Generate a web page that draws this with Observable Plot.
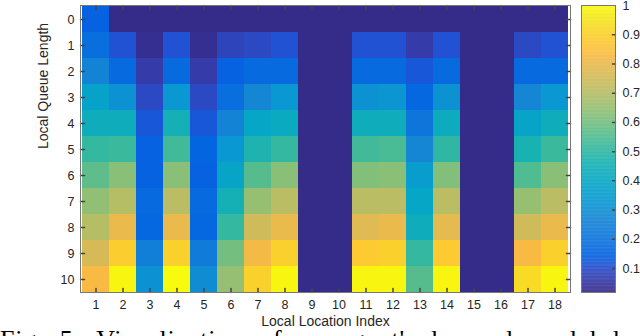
<!DOCTYPE html>
<html><head><meta charset="utf-8">
<script src="https://cdn.jsdelivr.net/npm/d3@7"></script>
<script src="https://cdn.jsdelivr.net/npm/@observablehq/plot@0.6"></script>
<style>
html,body{margin:0;padding:0;background:#fff;overflow:hidden}
#wrap{position:relative;width:640px;height:336px;overflow:hidden}
#cbar{position:absolute;left:575px;top:0}
#caption{font-family:"Liberation Serif","Times New Roman",serif;font-size:26px;line-height:26px;white-space:nowrap;margin-top:4px;word-spacing:8px;letter-spacing:0.8px;color:#000}
svg{overflow:visible}
</style></head><body>
<div id="wrap"><div id="heat"></div><div id="cbar"></div><div id="caption">Fig. 5: Visualization of an agent's learned model local coefficients</div></div>
<script>
const locations = [1,2,3,4,5,6,7,8,9,10,11,12,13,14,15,16,17,18];
const queueLengths = [0,1,2,3,4,5,6,7,8,9,10];
// rows: queue length 0..10; columns: location 1..18
const coefficients = [
  [0.14,0.02,0.02,0.02,0.02,0.02,0.02,0.02,0.02,0.02,0.02,0.02,0.02,0.02,0.02,0.02,0.02,0.02],
  [0.18,0.11,0.03,0.11,0.03,0.08,0.09,0.11,0.02,0.02,0.11,0.11,0.06,0.11,0.02,0.02,0.09,0.11],
  [0.26,0.17,0.06,0.17,0.06,0.14,0.17,0.17,0.02,0.02,0.17,0.17,0.12,0.17,0.02,0.02,0.17,0.17],
  [0.37,0.31,0.09,0.33,0.09,0.18,0.27,0.33,0.02,0.02,0.31,0.32,0.16,0.31,0.02,0.02,0.27,0.33],
  [0.43,0.43,0.12,0.45,0.12,0.26,0.39,0.41,0.02,0.02,0.43,0.43,0.21,0.42,0.02,0.02,0.38,0.43],
  [0.51,0.52,0.14,0.53,0.15,0.33,0.47,0.51,0.02,0.02,0.53,0.54,0.27,0.50,0.02,0.02,0.46,0.52],
  [0.57,0.63,0.14,0.63,0.14,0.38,0.56,0.63,0.02,0.02,0.62,0.63,0.35,0.62,0.02,0.02,0.55,0.63],
  [0.64,0.70,0.17,0.71,0.17,0.45,0.65,0.71,0.02,0.02,0.71,0.71,0.39,0.71,0.02,0.02,0.65,0.71],
  [0.70,0.80,0.16,0.80,0.16,0.51,0.75,0.80,0.02,0.02,0.78,0.80,0.43,0.79,0.02,0.02,0.75,0.80],
  [0.76,0.89,0.24,0.90,0.23,0.60,0.82,0.90,0.02,0.02,0.88,0.90,0.51,0.88,0.02,0.02,0.83,0.90],
  [0.83,0.99,0.31,1.00,0.29,0.65,0.90,0.99,0.02,0.02,0.99,0.99,0.56,0.99,0.02,0.02,0.93,0.99]
];
const colorbarTicks = [0.1,0.2,0.3,0.4,0.5,0.6,0.7,0.8,0.9,1];
const xLabel = "Local Location Index";
const yLabel = "Local Queue Length";

// parula colormap
const parulaColors = ["#352a87","#353dad","#2053d4","#0363e1","#0d75dc","#1485d4","#0998d1","#06a7c6","#15b1b4","#38b99e","#65be86","#92bf73","#b7bd64","#d9ba56","#f8ba44","#fec832","#f7d826","#f5eb18","#f9fb0e"];
const parulaStops = [0,3,6,8,12,16,20,24,28,32,36,40,44,48,52,55,58,61,63].map(i => i/63);
const cmin = 0.018, cmax = 1;
const colorScale = () => ({type:"linear", domain: parulaStops.map(t => cmin + t*(cmax-cmin)), range: parulaColors, interpolate:"rgb", clamp:true});

const cells = queueLengths.flatMap((q,i) => locations.map((l,j) => ({q, l, v: coefficients[i][j]})));
const tickShape = {draw(context, l){ context.moveTo(0,0); context.lineTo(0,-l); }};
const tickStroke = "#444";
const font = "'Liberation Sans', Arial, Helvetica, sans-serif";

const heat = Plot.plot({
  width:640, height:323, marginLeft:80, marginRight:70, marginTop:5, marginBottom:31,
  style:{fontFamily:font, fontSize:"12.5px", color:"#262626", background:"#fff", overflow:"visible"},
  x:{type:"band", domain:locations, padding:0},
  y:{type:"band", domain:queueLengths, padding:0},
  color: colorScale(),
  marks:[
    Plot.cell(cells, {x:"l", y:"q", fill:"v", inset:0}),
    Plot.axisX({anchor:"bottom", tickSize:0, tickPadding:8, label:null}),
    Plot.axisY({anchor:"left", tickSize:0, tickPadding:6, label:null}),
    Plot.vector(locations, {x:d=>d, frameAnchor:"bottom", length:4, rotate:0, anchor:"start", shape:tickShape, stroke:tickStroke}),
    Plot.vector(locations, {x:d=>d, frameAnchor:"top", length:4, rotate:180, anchor:"start", shape:tickShape, stroke:tickStroke}),
    Plot.vector(queueLengths, {y:d=>d, frameAnchor:"left", length:4, rotate:90, anchor:"start", shape:tickShape, stroke:tickStroke}),
    Plot.vector(queueLengths, {y:d=>d, frameAnchor:"right", length:4, rotate:-90, anchor:"start", shape:tickShape, stroke:tickStroke}),
    Plot.frame({stroke:"#777"}),
    Plot.text([xLabel], {text:d=>d, frameAnchor:"bottom", dy:29, lineAnchor:"middle", fontSize:14, fill:"#262626"}),
    Plot.text([yLabel], {text:d=>d, frameAnchor:"left", dx:-37, rotate:-90, lineAnchor:"middle", fontSize:14, fill:"#262626"})
  ]
});
document.getElementById("heat").appendChild(heat);

const gradientSteps = d3.range(cmin, cmax, 0.002);
const cbar = Plot.plot({
  width:65, height:323, marginTop:5, marginBottom:31, marginLeft:6, marginRight:25,
  style:{fontFamily:font, fontSize:"12.5px", color:"#262626", background:"transparent", overflow:"visible"},
  x:{domain:[0,1], axis:null},
  y:{domain:[cmin,cmax]},
  color: colorScale(),
  marks:[
    Plot.rect(gradientSteps, {x1:0, x2:1, y1:d=>d, y2:d=>Math.min(cmax, d+0.0028), fill:d=>d+0.001}),
    Plot.axisY({anchor:"right", ticks:colorbarTicks, tickFormat:d => d === 1 ? "1" : d3.format(".1f")(d), tickSize:0, tickPadding:7, label:null}),
    Plot.vector(colorbarTicks.filter(d => d < 1), {y:d=>d, frameAnchor:"right", length:3, rotate:-90, anchor:"start", shape:tickShape, stroke:tickStroke}),
    Plot.frame({stroke:"#777"})
  ]
});
document.getElementById("cbar").appendChild(cbar);
</script>
</body></html>
